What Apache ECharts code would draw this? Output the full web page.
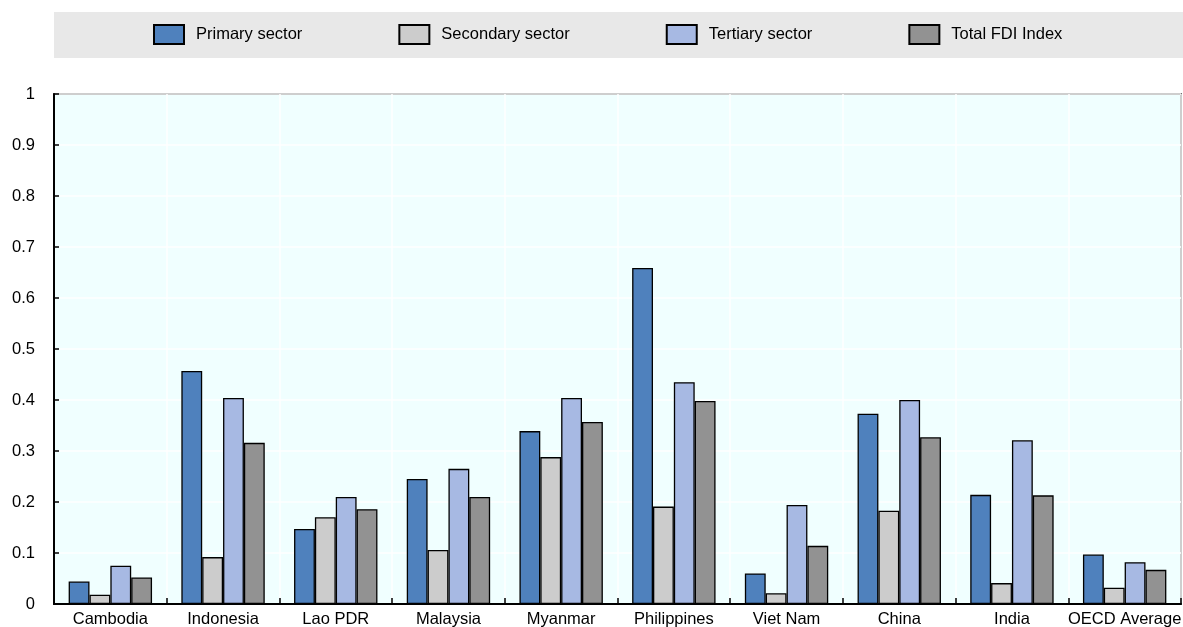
<!DOCTYPE html>
<html>
<head>
<meta charset="utf-8">
<script src="https://cdn.jsdelivr.net/npm/echarts@6/dist/echarts.min.js"></script>
<style>
  html, body { margin: 0; padding: 0; background: #fff; }
  #main { width: 1183px; height: 627px; }
</style>
</head>
<body>
<div id="main"></div>
<script>
// countries / groups on the x axis
var countries = ['Cambodia', 'Indonesia', 'Lao PDR', 'Malaysia', 'Myanmar',
  'Philippines', 'Viet Nam', 'China', 'India', 'OECD Average'];

// FDI restrictiveness index by sector
var primary   = [0.044, 0.457, 0.147, 0.245, 0.339, 0.659, 0.060, 0.373, 0.214, 0.097];
var secondary = [0.018, 0.092, 0.170, 0.106, 0.288, 0.191, 0.021, 0.183, 0.041, 0.032];
var tertiary  = [0.075, 0.404, 0.210, 0.265, 0.404, 0.435, 0.194, 0.400, 0.321, 0.082];
var total     = [0.052, 0.316, 0.186, 0.210, 0.357, 0.398, 0.114, 0.327, 0.213, 0.067];

var font = '"Liberation Sans", Arial, sans-serif';

var myChart = echarts.init(document.getElementById('main'));

function bar(name, data, color) {
  return {
    name: name,
    type: 'bar',
    data: data,
    barGap: '0%',
    barCategoryGap: '26%',
    itemStyle: { color: color, borderColor: '#000', borderWidth: 1.3 }
  };
}

var option = {
  animation: false,
  backgroundColor: '#fff',
  textStyle: { fontFamily: font },
  // grey band behind the legend
  graphic: [{
    type: 'rect',
    left: 54, top: 12,
    shape: { width: 1129, height: 46 },
    style: { fill: '#e8e8e8' },
    z: -1
  }],
  legend: {
    left: 153,
    top: 24,
    padding: 0,
    icon: 'rect',
    itemWidth: 30,
    itemHeight: 19,
    itemGap: 96,
    textStyle: { fontSize: 16.5, color: '#000', fontFamily: font, padding: [0, 0, 0, 7] },
    data: ['Primary sector', 'Secondary sector', 'Tertiary sector', 'Total FDI Index']
  },
  grid: {
    left: 54, right: 2, top: 94, bottom: 23,
    outerBoundsMode: 'none',
    show: true,
    backgroundColor: '#f0ffff',
    borderColor: '#000',
    borderWidth: 1.5
  },
  xAxis: {
    type: 'category',
    data: countries,
    axisLine: { lineStyle: { color: '#000', width: 2 } },
    axisTick: { show: true, inside: true, length: 6, lineStyle: { color: '#000', width: 1.5 } },
    axisLabel: { color: '#000', fontSize: 16.5, margin: 7, fontFamily: font, interval: 0 },
    splitLine: { show: true, lineStyle: { color: '#fff', width: 1.5 } }
  },
  yAxis: {
    type: 'value',
    min: 0, max: 1, interval: 0.1,
    axisLine: { show: true, lineStyle: { color: '#000', width: 2 } },
    axisTick: { show: true, inside: true, length: 5, lineStyle: { color: '#000', width: 1.5 } },
    axisLabel: { color: '#000', fontSize: 16.5, margin: 19, fontFamily: font,
      formatter: function (v) { return String(Math.round(v * 10) / 10); } },
    splitLine: { show: true, lineStyle: { color: '#fff', width: 1.5 } }
  },
  series: [
    bar('Primary sector', primary, '#4f81bd'),
    bar('Secondary sector', secondary, '#cccccc'),
    bar('Tertiary sector', tertiary, '#a7b9e3'),
    bar('Total FDI Index', total, '#929292')
  ]
};

myChart.setOption(option);
window.addEventListener('resize', function () {
  myChart.resize();
});
</script>
</body>
</html>
